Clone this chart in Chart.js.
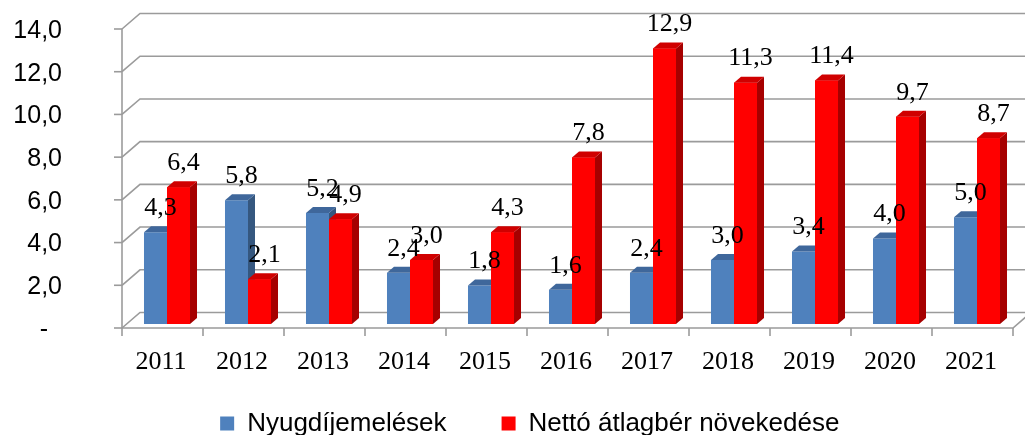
<!DOCTYPE html>
<html>
<head>
<meta charset="utf-8">
<script src="https://cdn.jsdelivr.net/npm/chart.js@4.4.1/dist/chart.umd.min.js"></script>
<style>
  body { margin: 0; background: #fff; }
  #wrap { width: 1025px; height: 435px; }
</style>
</head>
<body>
<div id="wrap"><canvas id="chart" width="1025" height="435"></canvas></div>
<script>
const years = ["2011", "2012", "2013", "2014", "2015", "2016", "2017", "2018", "2019", "2020", "2021"];
const nyugdij = [4.3, 5.8, 5.2, 2.4, 1.8, 1.6, 2.4, 3.0, 3.4, 4.0, 5.0];
const netto = [6.4, 2.1, 4.9, 3.0, 4.3, 7.8, 12.9, 11.3, 11.4, 9.7, 8.7];
const yTicks = [0, 2, 4, 6, 8, 10, 12, 14];

// 3D look: offsets from the bar plane to the front and back planes
const FRONT = [-4.5, 4];
const BACK = [13.5, -11.5];
const DEPTH = [7, -6];

const fmt = (v) => v.toFixed(1).replace(".", ",");

const faces = {
  blue: { side: "#35577f", top: "#3f679b" },
  red: { side: "#a60000", top: "#d00000" },
};

function poly(ctx, pts, fill) {
  ctx.beginPath();
  ctx.moveTo(pts[0][0], pts[0][1]);
  for (let i = 1; i < pts.length; i++) ctx.lineTo(pts[i][0], pts[i][1]);
  if (fill) {
    ctx.closePath();
    ctx.fillStyle = fill;
    ctx.fill();
  } else {
    ctx.stroke();
  }
}

function drawFaces(ctx, bar, col) {
  const { x, y, base, width } = bar.getProps(["x", "y", "base", "width"], true);
  const l = x - width / 2, r = x + width / 2;
  const [dx, dy] = DEPTH;
  poly(ctx, [[r, y], [r + dx, y + dy], [r + dx, base + dy], [r, base]], col.side);
  poly(ctx, [[l, y], [l + dx, y + dy], [r + dx, y + dy], [r, y]], col.top);
}

const frame3d = {
  id: "frame3d",
  afterLayout(chart) {
    // nudge the legend to sit under the plot like the original
    const lg = chart.legend;
    lg.left += 21; lg.right += 21;
    lg.top -= 19.5; lg.bottom -= 19.5;
  },
  beforeDatasetsDraw(chart) {
    const { ctx, chartArea: a, scales } = chart;
    const xs = scales.x, ys = scales.y;
    const fl = a.left + FRONT[0], fr = a.right + FRONT[0];
    const bl = a.left + BACK[0], br = a.right + BACK[0] + 10;
    ctx.save();
    ctx.strokeStyle = "#9b9b9b";
    ctx.lineWidth = 1.6;
    yTicks.forEach((v) => {
      const py = ys.getPixelForValue(v);
      poly(ctx, [[fl - 8, py + FRONT[1]], [fl, py + FRONT[1]]]);
      poly(ctx, [[fl, py + FRONT[1]], [bl, py + BACK[1]], [br, py + BACK[1]]]);
    });
    const y0 = ys.getPixelForValue(0);
    const yTop = ys.getPixelForValue(14);
    poly(ctx, [[fl, yTop + FRONT[1]], [fl, y0 + FRONT[1]]]);
    poly(ctx, [[fl, y0 + FRONT[1]], [fr, y0 + FRONT[1]], [fr + 18, y0 + BACK[1]]]);
    for (let i = 0; i <= years.length; i++) {
      const px = xs.getPixelForValue(i - 0.5) + FRONT[0];
      poly(ctx, [[px, y0 + FRONT[1]], [px, y0 + FRONT[1] + 8]]);
    }
    ctx.restore();
  },
  afterDatasetsDraw(chart) {
    const { ctx } = chart;
    const m0 = chart.getDatasetMeta(0), m1 = chart.getDatasetMeta(1);
    ctx.save();
    years.forEach((_, i) => {
      drawFaces(ctx, m0.data[i], faces.blue);
      m1.data[i].draw(ctx);
      drawFaces(ctx, m1.data[i], faces.red);
    });
    ctx.restore();
  },
  afterDraw(chart) {
    const { ctx } = chart;
    ctx.save();
    ctx.font = "26px 'Liberation Serif'";
    ctx.fillStyle = "#000";
    ctx.textAlign = "center";
    ctx.textBaseline = "middle";
    chart.data.datasets.forEach((ds, d) => {
      chart.getDatasetMeta(d).data.forEach((bar, i) => {
        ctx.fillText(fmt(ds.data[i]), bar.x + 5, bar.y - 24);
      });
    });
    ctx.restore();
  },
};

new Chart(document.getElementById("chart"), {
  type: "bar",
  data: {
    labels: years,
    datasets: [
      {
        label: "Nyugdíjemelések",
        data: nyugdij,
        backgroundColor: "#4f81bd",
        borderWidth: 0,
      },
      {
        label: "Nettó átlagbér növekedése",
        data: netto,
        backgroundColor: "#ff0000",
        borderWidth: 0,
      },
    ],
  },
  options: {
    responsive: false,
    devicePixelRatio: 1,
    animation: false,
    barPercentage: 1,
    categoryPercentage: 0.568,
    layout: { padding: { left: 0, right: 7.5, top: 25, bottom: -31 } },
    plugins: {
      tooltip: { enabled: false },
      legend: {
        position: "bottom",
        labels: {
          boxWidth: 14,
          boxHeight: 14,
          padding: 55,
          color: "#000",
          font: { family: "'Liberation Sans'", size: 26 },
        },
      },
    },
    scales: {
      x: {
        grid: { display: false, drawTicks: false },
        border: { display: false },
        afterFit: (s) => { s.height = 51; s.paddingLeft = 0; s.paddingRight = 0; },
        ticks: {
          color: "#000",
          padding: 23,
          labelOffset: -6,
          maxRotation: 0,
          autoSkip: false,
          font: { family: "'Liberation Serif'", size: 26 },
        },
      },
      y: {
        min: 0,
        max: 14,
        grid: { display: false, drawTicks: false },
        border: { display: false },
        afterFit: (s) => { s.width = 126.5; s.paddingTop = 0; s.paddingBottom = 0; },
        afterBuildTicks: (s) => { s.ticks = yTicks.map((v) => ({ value: v })); },
        ticks: {
          color: "#000",
          padding: 64.5,
          labelOffset: 6,
          font: { family: "'Liberation Sans'", size: 25 },
          callback: (v) => (v === 0 ? "-  " : fmt(v)),
        },
      },
    },
  },
  plugins: [frame3d],
});
</script>
</body>
</html>
